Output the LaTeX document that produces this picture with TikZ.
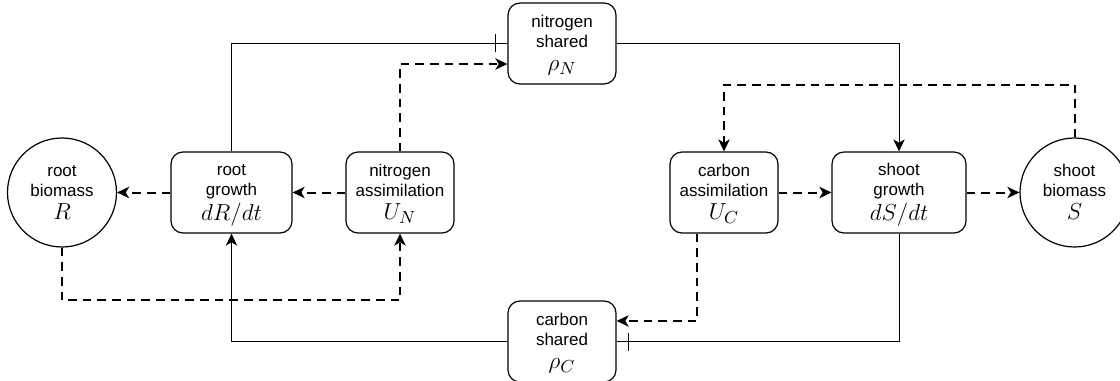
\documentclass[tikz,border=0pt]{standalone}
\usepackage{graphicx}
\usepackage{fontspec}
\setmainfont{Liberation Sans}
\usetikzlibrary{arrows.meta,decorations.markings}
% three line label: two words, then the symbol
\newcommand{\lbl}[3]{\rule{0pt}{12.6pt}#1\\#2\\[2.6pt]\scalebox{1.45}{$#3$}\rule[-4pt]{0pt}{4pt}}

\begin{document}
\begin{tikzpicture}[x=0.75pt, y=-0.75pt,
  main/.style = {draw, line width=0.9pt, rounded corners=9pt, minimum height=60.75pt, inner sep=0pt, align=center, font=\fontsize{12.75pt}{15pt}\selectfont},
  bio/.style = {draw, circle, line width=0.9pt, minimum size=81.75pt, inner sep=0pt, align=center, font=\fontsize{12.75pt}{15pt}\selectfont},
  flow/.style = {line width=1.5pt, dash pattern=on 6.5pt off 4.5pt, -{Stealth[length=9pt, width=8.5pt, inset=2.5pt]}},
  link/.style = {line width=0.75pt, -{Stealth[length=9pt, width=8.5pt, inset=2.5pt]}},
  bar/.style = {line width=0.75pt, postaction={decorate, decoration={markings, mark=at position -9pt with {\draw[line width=0.75pt] (0,-6.75pt) -- (0,6.75pt);}}}}]

\useasboundingbox (0, 0) rectangle (1120, 381);

\node[bio] (R) at (62, 192.5) {\lbl{root}{biomass}{R}};
\node[main, minimum width=90.75pt] (dR) at (231.5, 192.5) {\lbl{root}{growth}{dR/dt}};
\node[main, minimum width=81pt] (UN) at (400, 192.5) {\lbl{nitrogen}{assimilation}{U_N}};

\node[main, minimum width=81pt] (PN) at (562, 43.5) {\lbl{nitrogen}{shared}{\rho_N}};
\node[main, minimum width=81pt] (PC) at (562, 341.5) {\lbl{carbon}{shared}{\rho_C}};

\node[main, minimum width=81pt] (UC) at (724, 192.5) {\lbl{carbon}{assimilation}{U_C}};
\node[main, minimum width=100.5pt] (dS) at (899, 192.5) {\lbl{shoot}{growth}{dS/dt}};
\node[bio] (S) at (1074.5, 192.5) {\lbl{shoot}{biomass}{S}};

% root side
\draw[flow] (dR.west) -- (R.east);
\draw[flow] (UN.west) -- (dR.east);
\draw[flow] (UN.north) |- ([yshift=-15.4pt]PN.west);
\draw[bar] (dR.north) |- (PN.west);
\draw[flow] (R.south) -- (R.south |- PC.north) -| (UN.south);
\draw[link] (PC.west) -| (dR.south);

% shoot side
\draw[link] (PN.east) -| (dS.north);
\draw[flow] (S.north) -- (S.north |- PN.south) -| (UC.north);
\draw[flow] (UC.east) -- (dS.west);
\draw[flow] (dS.east) -- (S.west);
\draw[flow] ([xshift=-20.25pt]UC.south) |- ([yshift=15.4pt]PC.east);
\draw[bar] (dS.south) |- (PC.east);

\end{tikzpicture}
\end{document}
